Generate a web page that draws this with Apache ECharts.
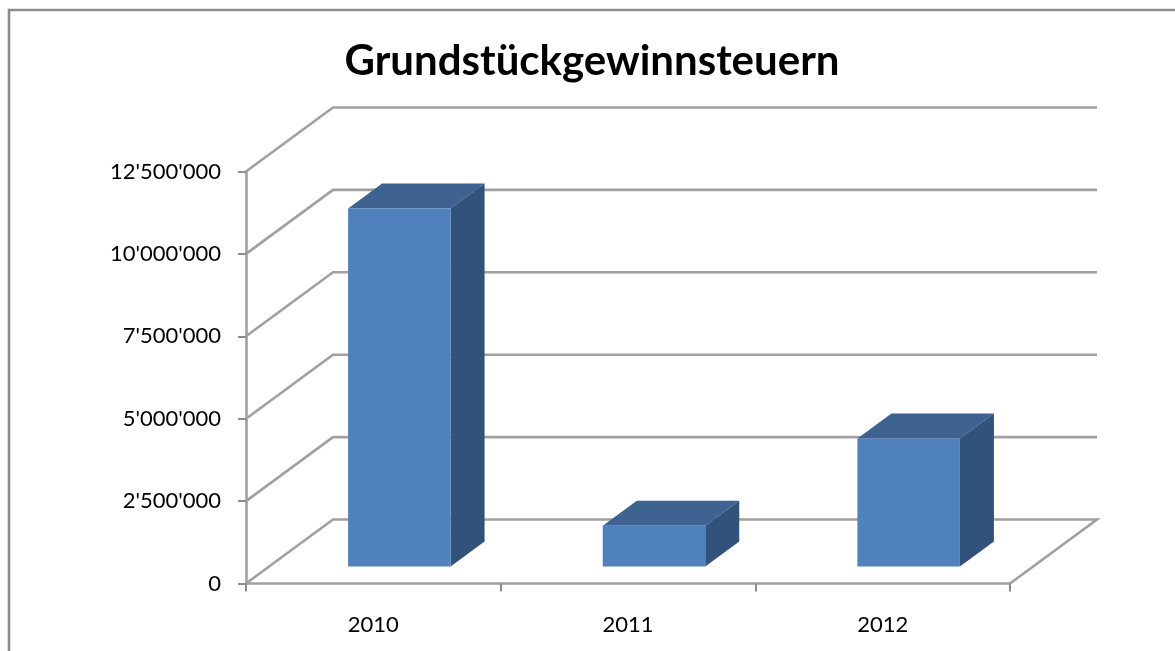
<!DOCTYPE html>
<html><head><meta charset="utf-8">
<style>html,body{margin:0;padding:0;background:#fff}#c{width:1175px;height:651px}</style>
<script src="https://cdn.jsdelivr.net/npm/echarts@6/dist/echarts.min.js"></script>
</head><body><div id="c"></div>
<script>
const titleText = "Grundstückgewinnsteuern";
const categories = ["2010", "2011", "2012"];
const values = [10860000, 1240000, 3880000];
const yTicks = [0, 2500000, 5000000, 7500000, 10000000, 12500000];

const WALL = [87, -64];      // depth of the floor / back wall
const BAR_OFF = [26, -17];   // bar front face shift into the depth
const BAR_D = [34, -25];     // bar depth
const BAR_W = 102.5;
const GRID = '#a0a0a0';

const fmt = v => String(v).replace(/\B(?=(\d{3})+(?!\d))/g, "'");
const chart = echarts.init(document.getElementById('c'), null, {renderer: 'canvas'});

function wallItem(params, api) {
  const cs = params.coordSys;
  const p = api.coord([0, api.value(0)]);
  const x0 = cs.x, y = p[1];
  const pts = [[x0, y], [x0 + WALL[0], y + WALL[1]], [x0 + cs.width + WALL[0], y + WALL[1]]];
  if (api.value(0) === 0) pts.push([x0 + cs.width, y]);
  return {type: 'polyline', shape: {points: pts}, silent: true,
    style: {fill: null, stroke: GRID, lineWidth: 2.6, lineJoin: 'miter'}};
}
function barItem(params, api) {
  const top = api.coord([api.value(0), api.value(1)]);
  const base = api.coord([api.value(0), 0]);
  const l = top[0] - BAR_W / 2 + BAR_OFF[0], r = l + BAR_W;
  const t = top[1] + BAR_OFF[1], b = base[1] + BAR_OFF[1];
  const dx = BAR_D[0], dy = BAR_D[1];
  return {type: 'group', children: [
    {type: 'polygon', shape: {points: [[l, t], [r, t], [r + dx, t + dy], [l + dx, t + dy]]}, style: {fill: '#3e6391'}},
    {type: 'polygon', shape: {points: [[r, t], [r + dx, t + dy], [r + dx, b + dy], [r, b]]}, style: {fill: '#31527a'}},
    {type: 'rect', shape: {x: l, y: t, width: BAR_W, height: b - t}, style: {fill: '#4f81bd'}}
  ]};
}

chart.setOption({
  animation: false,
  backgroundColor: '#fff',
  title: {text: titleText, left: 587, top: 35, textAlign: 'center',
    textStyle: {fontFamily: 'Lato', fontWeight: 'bold', fontSize: 42, color: '#000'}},
  graphic: [{type: 'polyline', z: 0, silent: true,
    shape: {points: [[9, 660], [9, 10], [1185, 10]]},
    style: {fill: null, stroke: '#8c8c8c', lineWidth: 2.6}}],
  grid: {left: 246, top: 171.5, width: 764, height: 412},
  xAxis: {type: 'category', data: categories, boundaryGap: true,
    axisLine: {lineStyle: {color: GRID, width: 2.6}},
    axisTick: {show: true, alignWithLabel: false, length: 8, lineStyle: {color: '#8c8c8c', width: 2}},
    axisLabel: {fontFamily: 'Lato', fontSize: 22, color: '#000', margin: 30},
    splitLine: {show: false}},
  yAxis: {type: 'value', min: 0, max: 12500000, interval: 2500000,
    axisLine: {show: true, lineStyle: {color: GRID, width: 2.6}},
    axisTick: {show: true, length: 8, lineStyle: {color: '#8c8c8c', width: 2}},
    axisLabel: {fontFamily: 'Lato', fontSize: 22, color: '#000', margin: 25, padding: [6, 0, 0, 0], formatter: fmt},
    splitLine: {show: false}},
  series: [
    {type: 'custom', coordinateSystem: 'cartesian2d', clip: false, z: 1, silent: true,
      encode: {y: 0}, data: yTicks.map(v => [v]), renderItem: wallItem},
    {type: 'custom', coordinateSystem: 'cartesian2d', clip: false, z: 3, silent: true,
      encode: {x: 0, y: 1}, data: values.map((v, i) => [i, v]), renderItem: barItem}
  ]
});
</script></body></html>
